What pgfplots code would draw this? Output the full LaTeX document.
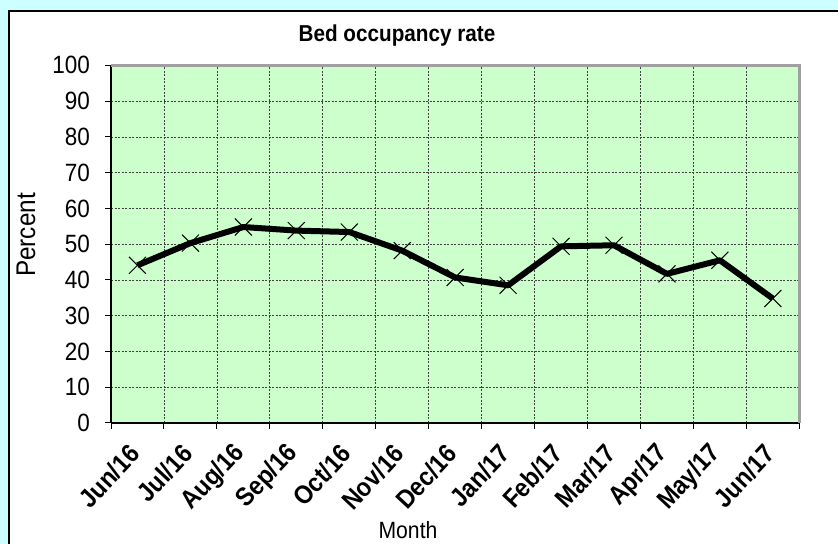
\documentclass[border=0pt]{standalone}
\usepackage{fontspec}
\setmainfont{Liberation Sans}[FakeStretch=0.9]
\usepackage{pgfplots}
\pgfplotsset{compat=1.18}
\definecolor{bgcyan}{RGB}{204,255,255}
\definecolor{plotgreen}{RGB}{204,255,204}
\definecolor{framegray}{RGB}{160,160,160}
\begin{document}
\begin{tikzpicture}[x=1bp,y=1bp]
\useasboundingbox (0,0) rectangle (838,544);
\fill[bgcyan] (0,0) rectangle (838,544);
\fill[white] (9,0) rectangle (838,533);
\draw[black, line width=1.2bp] (9,0) -- (9,533) -- (838,533);
\node[anchor=base, font=\bfseries\fontsize{23bp}{27bp}\selectfont] at (397,502) {Bed occupancy rate};
\node[anchor=base, font=\fontsize{23.5bp}{27bp}\selectfont] at (408,5.7) {Month};
\node[anchor=base, rotate=90, font=\fontsize{27bp}{30bp}\selectfont] at (35,309) {Percent};
\begin{axis}[
  at={(111bp,121bp)}, anchor=south west,
  scale only axis, width=688.3bp, height=357.6bp,
  xmin=-0.5, xmax=12.5, ymin=0, ymax=100,
  axis x line*=bottom, axis y line*=left,
  axis line style={-, black, line width=1.5bp},
  axis background/.style={fill=plotgreen},
  xtick={0,...,12},
  xticklabels={Jun/16,Jul/16,Aug/16,Sep/16,Oct/16,Nov/16,Dec/16,Jan/17,Feb/17,Mar/17,Apr/17,May/17,Jun/17},
  minor xtick={-0.5,0.5,...,12.5},
  ytick={0,10,...,100},
  tick align=outside,
  major tick length=6bp, minor tick length=6bp,
  x tick style={draw=none},
  minor x tick style={draw=black, line width=1bp},
  y tick style={black, line width=1bp},
  xminorgrids, ymajorgrids,
  minor grid style={dashed, dash pattern=on 2bp off 1.5bp, black!75, line width=0.7bp},
  major grid style={dashed, dash pattern=on 2bp off 1.5bp, black!75, line width=0.7bp},
  /pgf/number format/assume math mode=true,
  yticklabel style={font=\fontsize{25bp}{29bp}\selectfont, anchor=east, inner sep=0pt, xshift=-15bp},
  xticklabel style={font=\bfseries\fontsize{26bp}{30bp}\selectfont, inner sep=0pt, xshift=-3bp, yshift=-20bp, rotate=47, anchor=east},
  clip=false,
]
\addplot[black, line width=6bp, line join=round, mark=x, mark size=12bp,
  mark options={line width=1bp, solid, black}] coordinates {
  (0,44.1) (1,50.3) (2,54.8) (3,53.8) (4,53.4) (5,48.2) (6,40.7)
  (7,38.5) (8,49.4) (9,49.7) (10,41.7) (11,45.5) (12,34.8)
};
\draw[framegray, line width=2.5bp] (rel axis cs:0,1) -- (rel axis cs:1,1) -- (rel axis cs:1,0);
\end{axis}
\end{tikzpicture}
\end{document}
